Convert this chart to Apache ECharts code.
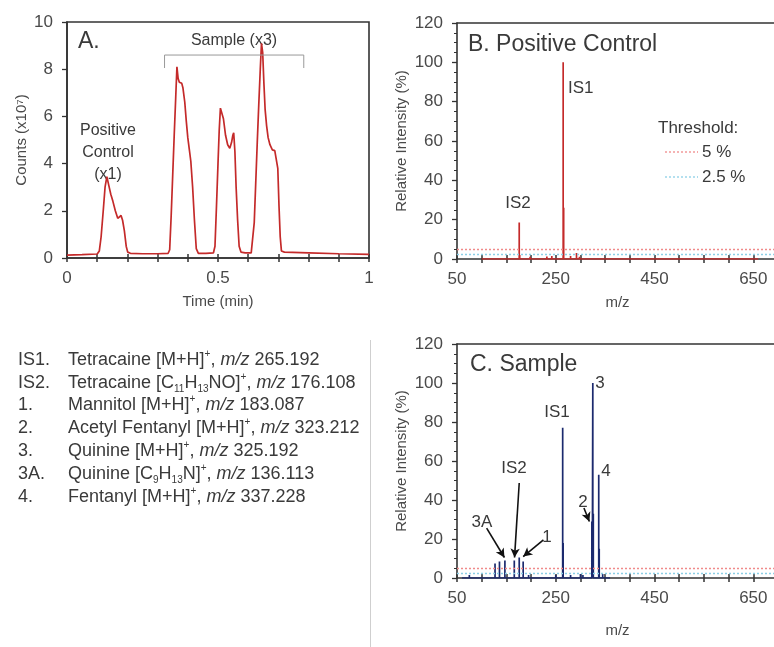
<!DOCTYPE html>
<html><head><meta charset="utf-8">
<script src="https://cdn.jsdelivr.net/npm/echarts@6/dist/echarts.min.js"></script>
<style>html,body{margin:0;padding:0;background:#fff}#c{width:774px;height:647px}</style>
</head><body><div id="c"></div>
<script>
// ---- Panel A: chromatogram ----
const timeA = [0, 0.05, 0.1, 0.107, 0.113, 0.12, 0.126, 0.132, 0.138, 0.145, 0.152, 0.16, 0.168, 0.174, 0.179, 0.184, 0.19, 0.196, 0.201, 0.21, 0.25, 0.3, 0.335, 0.34, 0.345, 0.35, 0.355, 0.36, 0.364, 0.368, 0.372, 0.376, 0.38, 0.384, 0.39, 0.395, 0.4, 0.405, 0.41, 0.416, 0.422, 0.428, 0.435, 0.46, 0.485, 0.49, 0.495, 0.5, 0.504, 0.508, 0.512, 0.518, 0.525, 0.532, 0.539, 0.545, 0.549, 0.552, 0.556, 0.56, 0.565, 0.57, 0.576, 0.59, 0.61, 0.615, 0.62, 0.625, 0.63, 0.635, 0.64, 0.644, 0.648, 0.652, 0.656, 0.661, 0.666, 0.672, 0.68, 0.688, 0.694, 0.698, 0.702, 0.706, 0.71, 0.72, 0.8, 0.9, 1.0];
const countsA = [0.12, 0.14, 0.17, 0.3, 0.9, 2.0, 3.0, 3.45, 3.1, 2.7, 2.4, 2.0, 1.68, 1.75, 1.8, 1.6, 1.15, 0.5, 0.25, 0.2, 0.18, 0.18, 0.2, 0.35, 1.8, 3.5, 5.2, 6.8, 8.1, 7.6, 7.45, 7.45, 7.4, 7.2, 6.6, 5.8, 5.1, 4.6, 4.1, 3.0, 1.6, 0.4, 0.2, 0.2, 0.22, 0.5, 2.2, 4.0, 5.4, 6.35, 6.3, 5.9, 5.2, 4.8, 4.65, 4.9, 5.2, 5.3, 4.5, 3.0, 1.6, 0.5, 0.25, 0.22, 0.22, 0.3, 1.5, 3.2, 4.9, 6.5, 8.0, 9.1, 8.7, 7.4, 6.3, 5.6, 5.1, 4.8, 4.58, 4.55, 4.5, 3.8, 2.2, 0.9, 0.3, 0.25, 0.22, 0.18, 0.15];
const bracketX = [0.323, 0.323, 0.784, 0.784];
const bracketY = [8.05, 8.6, 8.6, 8.05];

// ---- Panel B: positive control spectrum ----
const mzB  = [176, 177, 198, 208, 218, 232, 242, 265, 266, 280, 292, 298, 310];
const intB = [18.5, 2, 1.2, 1, 1, 1.3, 1.5, 100, 26, 1.5, 3, 1.2, 0.8];

// ---- Panel C: sample spectrum ----
const mzC  = [75, 85, 127, 136, 147, 166, 176, 184, 195, 240, 250, 264, 265, 280, 300, 305, 315, 323, 324, 325, 326, 337, 338, 345, 350];
const intC = [1.5, 1, 7.5, 8.5, 9, 9, 10.5, 8.5, 1.5, 1, 1.5, 77, 18, 1.5, 2, 1.5, 1, 29, 22, 100, 33, 53, 15, 2, 1];

const thresholds = [5, 2.5];
const mzTickLabels = [50, 250, 450, 650];
const timeTickLabels = [0, 0.5, 1];

const FONT = 'Liberation Sans';
const TXT = '#4a4a4a';

function sticks(mz, inten, start, end) {
  const d = [[start, 0]];
  mz.forEach((m, i) => { d.push([m, 0], [m, inten[i]], [m, 0]); });
  d.push([end, 0]);
  return d;
}

const chart = echarts.init(document.getElementById('c'), null, {renderer: 'canvas'});

const axisLine = {lineStyle: {color: '#333', width: 1.6}};
const labelStyle = {color: TXT, fontSize: 17, fontFamily: FONT};

function mainX(grid, min, max, interval, labels, name, nameGap) {
  return {
    type: 'value', gridIndex: grid, min, max, interval, position: 'bottom',
    axisLine: Object.assign({onZero: false}, axisLine),
    axisTick: {show: true, inside: false, length: 4, lineStyle: {color: '#333', width: 1.5}},
    axisLabel: Object.assign({margin: 12, formatter: v => labels.some(l => Math.abs(l - v) < 1e-9) ? String(v) : ''}, labelStyle),
    splitLine: {show: false},
    name, nameLocation: 'middle', nameGap,
    nameTextStyle: {color: TXT, fontSize: 15, fontFamily: FONT}
  };
}
function dupX(grid, min, max, interval) {
  return {
    type: 'value', gridIndex: grid, min, max, interval, position: 'bottom',
    axisLine: {show: false},
    axisTick: {show: true, inside: true, length: 4, lineStyle: {color: '#333', width: 1.5}},
    axisLabel: {show: false}, splitLine: {show: false}
  };
}
function topX(grid, min, max) {
  return {
    type: 'value', gridIndex: grid, min, max, position: 'top',
    axisLine: Object.assign({onZero: false}, axisLine),
    axisTick: {show: false}, axisLabel: {show: false}, splitLine: {show: false}
  };
}

const relName = 'Relative Intensity (%)';
function yB(grid) {
  return {
    type: 'value', gridIndex: grid, min: 0, max: 120, interval: 20,
    axisLine: axisLine,
    axisTick: {show: true, length: 5, lineStyle: {color: '#333', width: 1.3}},
    minorTick: {show: true, splitNumber: 4, length: 3, lineStyle: {color: '#333', width: 1}},
    axisLabel: Object.assign({margin: 14}, labelStyle),
    splitLine: {show: false}, minorSplitLine: {show: false},
    name: relName, nameLocation: 'middle', nameGap: 48,
    nameTextStyle: {color: TXT, fontSize: 15, fontFamily: FONT}
  };
}

function thresholdSeries(xi, yi) {
  return {
    type: 'line', xAxisIndex: xi, yAxisIndex: yi, data: [], silent: true,
    markLine: {
      silent: true, symbol: ['none', 'none'], label: {show: false},
      data: [
        {yAxis: thresholds[0], lineStyle: {color: '#f08a8a', type: [2, 2], width: 1.3}},
        {yAxis: thresholds[1], lineStyle: {color: '#8ccfe6', type: [2, 2], width: 1.3}}
      ]
    }
  };
}

const arrows = [
  [[110, 25.6], [146, 10.5]],
  [[176, 48.7], [166.5, 10.5]],
  [[225, 19.5], [184, 11]],
  [[307, 35.9], [318, 29]]
];

const option = {
  animation: false,
  backgroundColor: '#fff',
  grid: [
    {left: 67, top: 22, width: 302, height: 236, show: true, borderColor: '#333', borderWidth: 1.6, outerBoundsMode: 'none', containLabel: false},
    {left: 457, top: 23, right: -4, height: 236, outerBoundsMode: 'none', containLabel: false},
    {left: 457, top: 344, right: -4, height: 234, outerBoundsMode: 'none', containLabel: false}
  ],
  xAxis: [
    mainX(0, 0, 1, 0.1, timeTickLabels, 'Time (min)', 36),
    dupX(0, 0, 1, 0.1),
    mainX(1, 50, 700, 50, mzTickLabels, 'm/z', 36),
    dupX(1, 50, 700, 50),
    mainX(2, 50, 700, 50, mzTickLabels, 'm/z', 45),
    dupX(2, 50, 700, 50),
    topX(1, 50, 700),
    topX(2, 50, 700)
  ],
  yAxis: [
    {
      type: 'value', gridIndex: 0, min: 0, max: 10, interval: 2,
      axisLine: axisLine,
      axisTick: {show: true, length: 5, lineStyle: {color: '#333', width: 1.3}},
      axisLabel: Object.assign({margin: 14}, labelStyle),
      splitLine: {show: false},
      name: 'Counts (x10\u2077)', nameLocation: 'middle', nameGap: 38,
      nameTextStyle: {color: TXT, fontSize: 15, fontFamily: FONT}
    },
    yB(1),
    yB(2)
  ],
  series: [
    {type: 'line', xAxisIndex: 0, yAxisIndex: 0, showSymbol: false, symbol: 'none',
     lineStyle: {color: '#c42a2a', width: 1.7},
     data: timeA.map((t, i) => [t, countsA[i]])},
    {type: 'line', xAxisIndex: 0, yAxisIndex: 0, symbol: 'none',
     lineStyle: {color: '#999', width: 1},
     data: bracketX.map((x, i) => [x, bracketY[i]])},
    thresholdSeries(2, 1),
    {type: 'line', xAxisIndex: 2, yAxisIndex: 1, symbol: 'none',
     lineStyle: {color: '#c42a2a', width: 1.7},
     data: sticks(mzB, intB, 100, 660)},
    thresholdSeries(4, 2),
    {type: 'line', xAxisIndex: 4, yAxisIndex: 2, symbol: 'none',
     lineStyle: {color: '#1c2a6e', width: 1.7},
     data: sticks(mzC, intC, 60, 360)},
    {type: 'line', xAxisIndex: 4, yAxisIndex: 2, data: [], silent: true,
     markLine: {
       silent: true, symbol: ['none', 'arrow'], symbolSize: [7, 9],
       label: {show: false},
       lineStyle: {color: '#111', width: 1.6, type: 'solid'},
       data: arrows.map(a => [{coord: a[0]}, {coord: a[1]}])
     }}
  ],
  graphic: []
};

function txt(x, y, text, size, align, extra) {
  return {type: 'text', x, y, silent: true,
    style: Object.assign({text, fill: '#3a3a3a', font: size + 'px "' + FONT + '"', textAlign: align || 'left', textVerticalAlign: 'middle'}, extra || {})};
}
const g = option.graphic;
// panel titles
g.push(txt(78, 42, 'A.', 23));
g.push(txt(468, 45, 'B. Positive Control', 23));
g.push(txt(470, 365, 'C. Sample', 23));
// panel A annotations
g.push(txt(108, 131, 'Positive', 16, 'center'));
g.push(txt(108, 153, 'Control', 16, 'center'));
g.push(txt(108, 175, '(x1)', 16, 'center'));
g.push(txt(234, 41, 'Sample (x3)', 16, 'center'));
// panel B annotations
g.push(txt(568, 88, 'IS1', 17));
g.push(txt(518, 203, 'IS2', 17, 'center'));
g.push(txt(658, 128, 'Threshold:', 17));
g.push({type: 'line', silent: true, shape: {x1: 665, y1: 152, x2: 698, y2: 152}, style: {stroke: '#f08a8a', lineWidth: 1.3, lineDash: [2, 2]}});
g.push({type: 'line', silent: true, shape: {x1: 665, y1: 177, x2: 698, y2: 177}, style: {stroke: '#8ccfe6', lineWidth: 1.3, lineDash: [2, 2]}});
g.push(txt(702, 152, '5 %', 17));
g.push(txt(702, 177, '2.5 %', 17));
// panel C annotations
g.push(txt(557, 412, 'IS1', 17, 'center'));
g.push(txt(600, 383, '3', 17, 'center'));
g.push(txt(606, 471, '4', 17, 'center'));
g.push(txt(583, 502, '2', 17, 'center'));
g.push(txt(547, 537, '1', 17, 'center'));
g.push(txt(482, 522, '3A', 17, 'center'));
g.push(txt(514, 468, 'IS2', 17, 'center'));
// divider
g.push({type: 'line', silent: true, shape: {x1: 370.5, y1: 340, x2: 370.5, y2: 647}, style: {stroke: '#cfcfcf', lineWidth: 1}});

// compound list
const listKeys = ['IS1.', 'IS2.', '1.', '2.', '3.', '3A.', '4.'];
const listText = [
  'Tetracaine [M+H]{sup|+}, {it|m/z} 265.192',
  'Tetracaine [C{sub|11}H{sub|13}NO]{sup|+}, {it|m/z} 176.108',
  'Mannitol [M+H]{sup|+}, {it|m/z} 183.087',
  'Acetyl Fentanyl [M+H]{sup|+}, {it|m/z} 323.212',
  'Quinine [M+H]{sup|+}, {it|m/z} 325.192',
  'Quinine [C{sub|9}H{sub|13}N]{sup|+}, {it|m/z} 136.113',
  'Fentanyl [M+H]{sup|+}, {it|m/z} 337.228'
];
const listY = [360, 383, 405, 428, 451, 474, 497];
const rich = {
  sup: {fontSize: 10, fontFamily: FONT, fill: '#3a3a3a', verticalAlign: 'top', lineHeight: 22},
  sub: {fontSize: 10, fontFamily: FONT, fill: '#3a3a3a', verticalAlign: 'bottom', lineHeight: 22},
  it: {fontSize: 18, fontFamily: FONT, fontStyle: 'italic', fill: '#3a3a3a', lineHeight: 22}
};
listKeys.forEach((k, i) => {
  g.push(txt(18, listY[i], k, 18));
  g.push({type: 'text', x: 68, y: listY[i], silent: true,
    style: {text: listText[i], rich, fill: '#3a3a3a', fontSize: 18, fontFamily: FONT, lineHeight: 22,
            textAlign: 'left', textVerticalAlign: 'middle'}});
});

chart.setOption(option);
</script>
</body></html>
